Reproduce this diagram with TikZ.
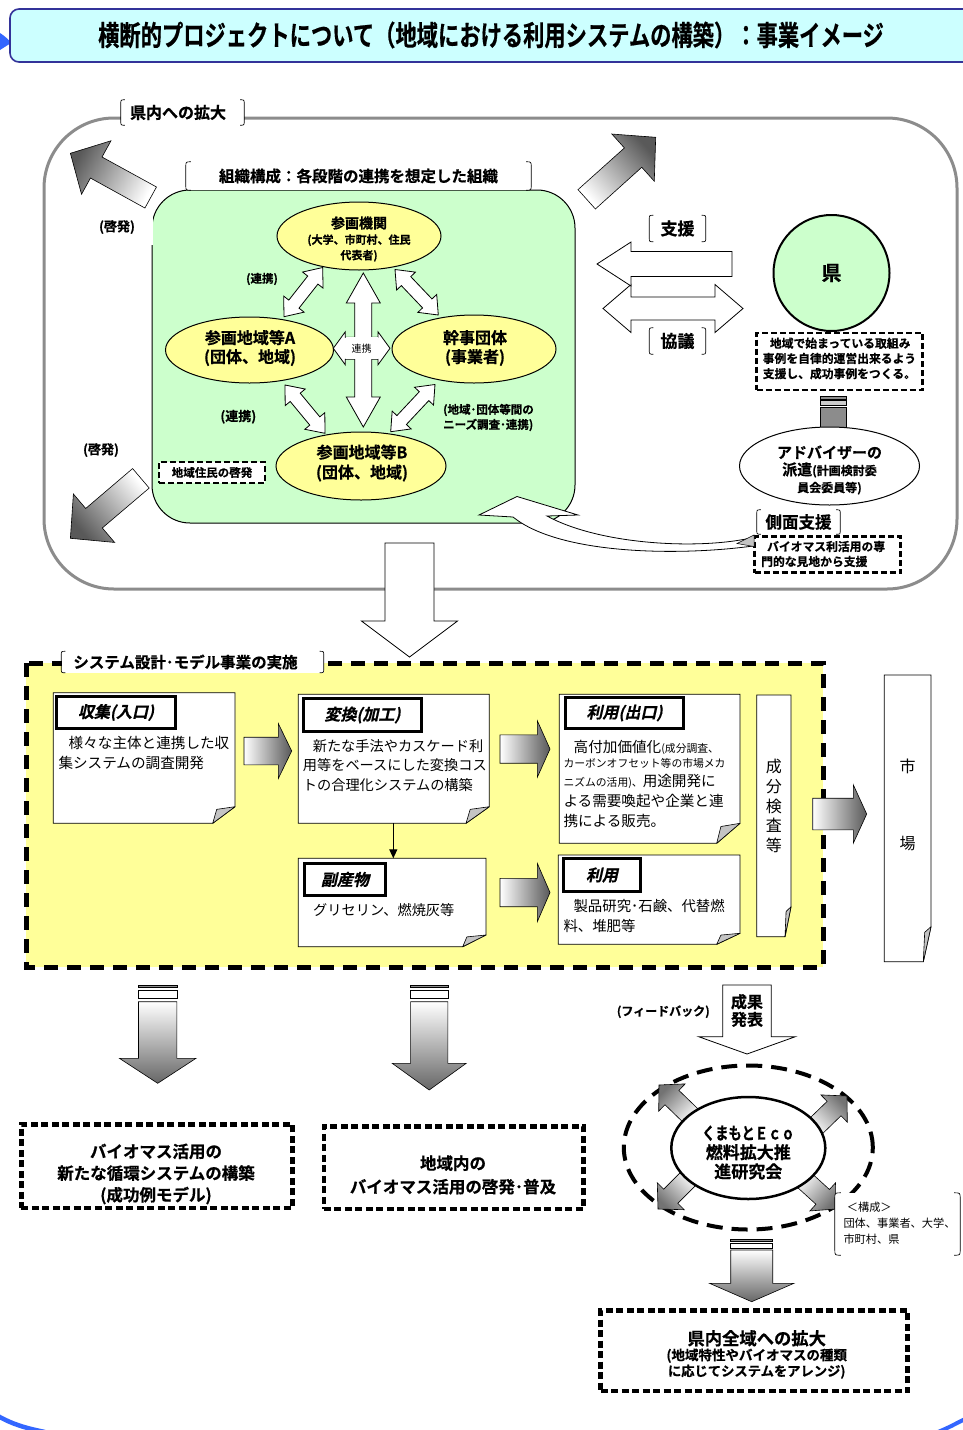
\documentclass[tikz,border=0pt]{standalone}
\usepackage{fontspec}
\usepackage{graphicx}
\setmainfont{Noto Sans CJK JP}
\newfontfamily\jb{Noto Sans CJK JP Bold}[FakeBold=0.6]
\newfontfamily\jbsl{Noto Sans CJK JP Bold}[FakeSlant=0.22, FakeBold=0.6]
\usetikzlibrary{calc,shapes.geometric,arrows.meta}

\definecolor{paleGreen}{HTML}{CCFFCC}
\definecolor{paleYellow}{HTML}{FFFF99}
\definecolor{paleCyan}{HTML}{CCFFFF}
\definecolor{titleNavy}{HTML}{333399}
\definecolor{frameGray}{HTML}{8C8C8C}
\definecolor{foldGray}{HTML}{C4C4C4}
\definecolor{decoBlue}{HTML}{3366FF}

\newcommand\fsz[2]{\fontsize{#1}{#2}\selectfont}

% block arrow: style, tail, tip, shaft half-width, head half-width, head length
\newcommand\blockarrow[6]{%
  \coordinate (ba-base) at ($#3!#6!#2$);
  \path[#1] ($#2!#4!90:#3$) -- ($(ba-base)!#4!-90:#2$) -- ($(ba-base)!#5!-90:#2$)
    -- #3 -- ($(ba-base)!#5!90:#2$) -- ($(ba-base)!#4!90:#2$)
    -- ($#2!#4!-90:#3$) -- cycle;}

% two-headed block arrow: style, end A, end B, shaft half-width, head half-width, head length
\newcommand\twinarrow[6]{%
  \coordinate (ta-a) at ($#2!#6!#3$);
  \coordinate (ta-b) at ($#3!#6!#2$);
  \path[#1] #2 -- ($(ta-a)!#5!90:#3$) -- ($(ta-a)!#4!90:#3$)
    -- ($(ta-b)!#4!-90:#2$) -- ($(ta-b)!#5!-90:#2$) -- #3
    -- ($(ta-b)!#5!90:#2$) -- ($(ta-b)!#4!90:#2$)
    -- ($(ta-a)!#4!-90:#3$) -- ($(ta-a)!#5!-90:#3$) -- cycle;}

% sheet with a folded lower-right corner: name, x1, y1, x2, y2, fold width, fold height
\newcommand\sheet[7]{%
  \path[draw=black, fill=white, line width=0.8pt]
    (#2,#3) -- (#4,#3) -- (#4,#5-#7) -- (#4-#6,#5) -- (#2,#5) -- cycle;
  \path[draw=black, fill=foldGray, line width=0.6pt, line join=round]
    (#4,#5-#7) -- (#4-#6,#5) -- (#4-0.82*#6,#5-0.84*#7) -- cycle;
  \coordinate (#1) at ({(#2+#4)/2},{(#3+#5)/2});}

% thin curled brackets on both sides of a label node: node name, curl size
\newcommand\bracketed[2]{%
  \draw[line width=0.7pt]
    ([xshift=#2]#1.north west) .. controls (#1.north west) .. ([yshift=-#2]#1.north west)
    -- ([yshift=#2]#1.south west) .. controls (#1.south west) .. ([xshift=#2]#1.south west);
  \draw[line width=0.7pt]
    ([xshift=-#2]#1.north east) .. controls (#1.north east) .. ([yshift=-#2]#1.north east)
    -- ([yshift=#2]#1.south east) .. controls (#1.south east) .. ([xshift=-#2]#1.south east);}

% one line of text placed on its baseline
\newcommand\tline[4]{\node[anchor=base west] (#1) at (#2,#3) {#4};}

\begin{document}
\begin{tikzpicture}[x=1pt, y=-1pt,
  every node/.style={inner sep=0pt},
  lbl/.style={fill=white},
  yel/.style={ellipse, draw=black, fill=paleYellow, line width=1pt},
  whitearrow/.style={draw=black, fill=white, line width=0.8pt, line join=miter},
  grayarrow/.style={draw=black, line width=0.6pt, line join=miter},
  dbox/.style={draw=black, fill=white, line width=2.4pt, dash pattern=on 6pt off 3pt},
  dotbox/.style={draw=black, line width=4.5pt, dash pattern=on 7pt off 3.5pt},
  tabbox/.style={draw=black, line width=3.5pt, fill=white, font=\jbsl\fsz{16}{18}}]

\useasboundingbox (0,0) rectangle (963,1430);
\fill[white] (0,0) rectangle (963,1430);

% ---------- decoration and title ----------
\fill[decoBlue] (0,33) .. controls (6,37) and (9,40) .. (11,43) .. controls (6,46) .. (0,50) -- cycle;
\draw[decoBlue, line width=4.5pt] (-2,1416) .. controls (12,1424) and (25,1428) .. (45,1432);
\draw[decoBlue, line width=4pt] (965,1419) .. controls (955,1424) and (948,1428) .. (938,1432);
\path[draw=titleNavy, fill=paleCyan, line width=1.6pt, rounded corners=9pt] (10,9) rectangle (1000,62);
\node (title) at (491,35) {\scalebox{0.76}[1]{\jb\fsz{28}{30}横断的プロジェクトについて（地域における利用システムの構築）：事業イメージ}};

% ---------- prefecture-wide frame ----------
\draw[frameGray, line width=3pt, rounded corners=70pt] (44,118) rectangle (957,589);
\node[lbl, minimum width=123pt, minimum height=25pt] (expand) at (182.5,112.5) {\jb\fsz{16}{18}県内への拡大\hspace*{9pt}};
\bracketed{expand}{4pt}

% outward arrows
\coordinate (nw-tail) at (150.7,197.5); \coordinate (nw-tip) at (70.4,153.3);
\blockarrow{grayarrow, top color=black!65, bottom color=white, shading angle=61.2}{(nw-tail)}{(nw-tip)}{12pt}{30.5pt}{29.5pt}
\coordinate (ne-tail) at (586.7,199.3); \coordinate (ne-tip) at (655.7,137.3);
\blockarrow{grayarrow, top color=black!65, bottom color=white, shading angle=-48.1}{(ne-tail)}{(ne-tip)}{13pt}{31.7pt}{30.4pt}
\coordinate (sw-tail) at (140.9,478.3); \coordinate (sw-tip) at (70.4,538.3);
\blockarrow{grayarrow, top color=black!65, bottom color=white, shading angle=130.4}{(sw-tail)}{(sw-tip)}{12.8pt}{31.8pt}{31pt}

% ---------- organisation area ----------
\path[draw=black, fill=paleGreen, line width=1pt, rounded corners=38pt] (152,190) rectangle (575,523);
\node[lbl, minimum width=72pt, minimum height=36pt] (kei-top) at (117,227) {\jb\fsz{13}{15}(啓発)};
\node (kei-low) at (101,450) {\jb\fsz{13}{15}(啓発)};
\node[lbl, minimum width=345pt, minimum height=28pt] (org) at (358.5,176) {\jb\fsz{15.5}{17}組織構成：各段階の連携を想定した組織};
\bracketed{org}{5pt}

\node[yel, minimum width=164pt, minimum height=68pt] (kikan) at (359,236) {};
\node[align=center, font=\jb\fsz{11}{15.5}] (kikan-txt) at (359,239) {{\fsz{14}{16}参画機関}\\(大学、市町村、住民\\代表者)};
\node[yel, minimum width=168pt, minimum height=66pt] (regA) at (249.5,350) {};
\node[align=center, font=\jb\fsz{16}{19}] (regA-txt) at (250,348) {参画地域等A\\(団体、地域)};
\node[yel, minimum width=164pt, minimum height=68pt] (kanji) at (474,349) {};
\node[align=center, font=\jb\fsz{16}{19}] (kanji-txt) at (475,348) {幹事団体\\(事業者)};
\node[yel, minimum width=170pt, minimum height=68pt] (regB) at (361,466) {};
\node[align=center, font=\jb\fsz{16}{20}] (regB-txt) at (362,463) {参画地域等B\\(団体、地域)};

\coordinate (ka1) at (322.7,267.5); \coordinate (ka2) at (284,316.7);
\twinarrow{whitearrow}{(ka1)}{(ka2)}{6.5pt}{13pt}{16pt}
\coordinate (kk1) at (395,269.5); \coordinate (kk2) at (438.3,315);
\twinarrow{whitearrow}{(kk1)}{(kk2)}{6.5pt}{13pt}{16pt}
\coordinate (ab1) at (285,385); \coordinate (ab2) at (325,433.3);
\twinarrow{whitearrow}{(ab1)}{(ab2)}{6.5pt}{13pt}{16pt}
\coordinate (kb1) at (435,384.5); \coordinate (kb2) at (390.7,431.7);
\twinarrow{whitearrow}{(kb1)}{(kb2)}{6.5pt}{13pt}{16pt}
\coordinate (ah) at (333.3,348.3); \coordinate (kh) at (390,348.3);
\twinarrow{whitearrow}{(ah)}{(kh)}{11pt}{16.5pt}{12pt}
\coordinate (kv) at (363.3,273); \coordinate (bv) at (363.3,427);
\twinarrow{whitearrow}{(kv)}{(bv)}{8.5pt}{17pt}{30pt}
\node[lbl, minimum width=32pt, minimum height=22pt] (renkei) at (361.5,348.3) {\fsz{10}{12}連携};

\node (renkei-ul) at (262,279) {\jb\fsz{11.5}{13}(連携)};
\node (renkei-ll) at (238.3,416.7) {\jb\fsz{13}{15}(連携)};
\node[anchor=west, align=left, font=\jb\fsz{11.5}{15}] (needs) at (443,417.5) {(地域･団体等間の\\ニーズ調査･連携)};
\node[dbox, minimum width=106pt, minimum height=21pt] (resid) at (212,472.5) {\jb\fsz{11.5}{13}地域住民の啓発};

% ---------- prefecture side ----------
\node[lbl, minimum width=56pt, minimum height=26pt] (shien) at (677.5,228.5) {\jb\fsz{17}{19}支援};
\bracketed{shien}{4pt}
\coordinate (kyo-l) at (603,308.5); \coordinate (kyo-r) at (743,308.5);
\twinarrow{whitearrow}{(kyo-l)}{(kyo-r)}{11.5pt}{24pt}{28pt}
\coordinate (shien-tail) at (732,264); \coordinate (shien-tip) at (597,264);
\blockarrow{whitearrow}{(shien-tail)}{(shien-tip)}{12.5pt}{22pt}{34pt}
\node[lbl, minimum width=56pt, minimum height=26pt] (kyogi) at (677.5,341) {\jb\fsz{17}{19}協議};
\bracketed{kyogi}{4pt}

\node[circle, draw=black, line width=2pt, fill=paleGreen, minimum size=116pt] (pref) at (831.5,273) {\jb\fsz{20}{22}県};
\node[dbox, minimum width=166pt, minimum height=57pt] (prefnote) at (839.5,361.2) {};
\node[align=left, font=\jb\fsz{11.8}{15.2}] (prefnote-txt) at (839.5,358.5) {\hspace*{0.6em}地域で始まっている取組み\\事例を自律的運営出来るよう\\支援し、成功事例をつくる。};

\path[draw=black, line width=0.6pt, fill=black!45] (820,396.5) rectangle (846.5,398.8);
\path[draw=black, line width=0.6pt, fill=black!20] (820,400.5) rectangle (846.5,405.5);
\path[draw=black, line width=0.6pt, fill=black!45] (820,407.5) rectangle (846.5,427);

\node[ellipse, draw=black, line width=1pt, fill=white, minimum width=180pt, minimum height=78pt] (adv) at (829.5,466) {};
\node[align=center, font=\jb\fsz{12}{17}] (adv-txt) at (829.5,470) {{\fsz{15}{20}アドバイザーの}\\{\fsz{15}{20}派遣}(計画検討委\\員会委員等)};

\node[lbl, minimum width=83pt, minimum height=24pt] (side) at (798.5,522) {\jb\fsz{16.5}{18}側面支援};
\bracketed{side}{4pt}
\node[dbox, minimum width=146pt, minimum height=36pt] (expert) at (827.5,554.5) {};
\node[anchor=west, align=left, font=\jb\fsz{11.8}{15}] (expert-txt) at (761,554) {\hspace*{0.5em}バイオマス利活用の専\\門的な見地から支援};

% curved support arrow back into the organisation
\path[whitearrow] (753,537.5) .. controls (700,550) and (600,545) .. (547,516)
  -- (578,515) -- (517,496.5) -- (479,515) -- (513,517)
  .. controls (560,555) and (680,556) .. (753,546) -- cycle;
\path[draw=black, line width=0.5pt, fill=foldGray] (754,535) -- (754,546.5) -- (737,543.5) -- cycle;

% down into the model project
\coordinate (upper-out) at (409.5,543); \coordinate (lower-in) at (409.5,657);
\blockarrow{whitearrow}{(upper-out)}{(lower-in)}{24.5pt}{48pt}{36pt}

% ---------- system design / model project ----------
\fill[paleYellow] (26,663) rectangle (823,967);
\draw[line width=5pt, dash pattern=on 14pt off 9pt] (26,663) rectangle (823,967);
\node[lbl, minimum width=262pt, minimum height=21pt] (sysdesign) at (192.5,662) {\jb\fsz{15.5}{17}システム設計･モデル事業の実施\hspace*{14pt}};
\bracketed{sysdesign}{4pt}

\sheet{shushu}{53.3}{692.7}{235}{823.3}{22.3}{16.6}
\sheet{henkan}{298.3}{694.3}{489.3}{823.3}{23.3}{16.6}
\sheet{fukusan}{298.3}{858.3}{486}{946.7}{23.3}{11.7}
\sheet{deguchi}{559.3}{694.3}{740}{843.3}{23.3}{20}
\sheet{riyou}{558.3}{855}{740}{944.3}{23.3}{11}
\sheet{seibun}{756.7}{695}{791}{936.7}{6}{30}
\sheet{market}{884.3}{675}{931}{961.7}{7.7}{35}

\node[tabbox, minimum width=119pt, minimum height=32pt] (tab-shu) at (116,712.5) {収集(入口)};
\node[tabbox, minimum width=118pt, minimum height=33pt] (tab-hen) at (362.5,715) {変換(加工)};
\node[tabbox, minimum width=81pt, minimum height=32pt] (tab-fuk) at (345,879.5) {副産物};
\node[tabbox, minimum width=118pt, minimum height=31pt] (tab-de) at (624.5,713) {利用(出口)};
\node[tabbox, minimum width=77pt, minimum height=33pt] (tab-ri) at (602,875) {利用};

\tline{shu-l1}{58.3}{748.8}{\fsz{14.6}{18}\hspace*{0.7em}様々な主体と連携した収}
\tline{shu-l2}{58.3}{768.8}{\fsz{14.6}{18}集システムの調査開発}
\tline{hen-l1}{302.7}{751.4}{\fsz{14.2}{18}\hspace*{0.7em}新たな手法やカスケード利}
\tline{hen-l2}{302.7}{770.4}{\fsz{14.2}{18}用等をベースにした変換コス}
\tline{hen-l3}{302.7}{790.4}{\fsz{14.2}{18}トの合理化システムの構築}
\tline{fuk-l1}{313}{915.4}{\fsz{14.2}{18}グリセリン、燃焼灰等}
\tline{de-l1}{563.3}{752}{\fsz{14.6}{18}\hspace*{0.7em}高付加価値化\fsz{10.8}{13}(成分調査、}
\tline{de-l2}{563.3}{767.4}{\fsz{10.8}{13}カーボンオフセット等の市場メカ}
\tline{de-l3}{563.3}{786.5}{\fsz{10.8}{13}ニズムの活用)、\fsz{14.6}{18}用途開発に}
\tline{de-l4}{563.3}{806.2}{\fsz{14.6}{18}よる需要喚起や企業と連}
\tline{de-l5}{563.3}{826.2}{\fsz{14.6}{18}携による販売。}
\tline{ri-l1}{563.3}{911.5}{\fsz{14.4}{18}\hspace*{0.7em}製品研究･石鹸、代替燃}
\tline{ri-l2}{563.3}{931.5}{\fsz{14.4}{18}料、堆肥等}
\node[align=center, font=\fsz{16}{19.6}] (seibun-txt) at (773.8,806) {成\\分\\検\\査\\等};
\node (ichi) at (907.5,766.7) {\fsz{16}{18}市};
\node (ba) at (907.5,843.3) {\fsz{16}{18}場};

\coordinate (shu-out) at (244,751); \coordinate (hen-in) at (291.7,751);
\blockarrow{grayarrow, left color=white, right color=black!65}{(shu-out)}{(hen-in)}{13.8pt}{27.5pt}{13.4pt}
\coordinate (hen-out) at (500,749); \coordinate (de-in) at (550,749);
\blockarrow{grayarrow, left color=white, right color=black!65}{(hen-out)}{(de-in)}{14.2pt}{28.3pt}{12.7pt}
\coordinate (fuk-out) at (500,892.5); \coordinate (ri-in) at (550,892.5);
\blockarrow{grayarrow, left color=white, right color=black!65}{(fuk-out)}{(ri-in)}{14.2pt}{29.2pt}{12.7pt}
\coordinate (sys-out) at (812.7,814); \coordinate (market-in) at (866.7,814);
\blockarrow{grayarrow, left color=white, right color=black!65}{(sys-out)}{(market-in)}{15.8pt}{29.2pt}{13.4pt}
\coordinate (hen-down) at (393.3,823.3); \coordinate (fuk-top) at (393.3,858.3);
\draw[line width=1.2pt, -{Triangle[width=8pt,length=9pt]}] (hen-down) -- (fuk-top);

% ---------- outcomes ----------
\path[draw=black, line width=0.6pt, fill=black!45] (138.5,985) rectangle (176.8,987.5);
\path[draw=black, line width=0.6pt, fill=white] (138.5,990.7) rectangle (176.8,998.3);
\coordinate (new-src) at (157.7,1001.7); \coordinate (new-dst) at (157.7,1083.3);
\blockarrow{grayarrow, top color=white, bottom color=black!60}{(new-src)}{(new-dst)}{19.2pt}{38.3pt}{25pt}
\path[draw=black, line width=0.6pt, fill=black!45] (410.6,985) rectangle (447.8,987.5);
\path[draw=black, line width=0.6pt, fill=white] (410.6,990.7) rectangle (447.8,998.3);
\coordinate (spr-src) at (429.2,1001.7); \coordinate (spr-dst) at (429.2,1090);
\blockarrow{grayarrow, top color=white, bottom color=black!60}{(spr-src)}{(spr-dst)}{18.6pt}{37pt}{26.7pt}

\node[dotbox, minimum width=271pt, minimum height=83.5pt] (newsys) at (156.9,1166) {};
\node[align=center, font=\jb\fsz{16.5}{21.7}] (newsys-txt) at (156,1174) {バイオマス活用の\\新たな循環システムの構築\\(成功例モデル)};
\node[dotbox, minimum width=259.5pt, minimum height=82.5pt] (spread) at (453.5,1167.5) {};
\node[align=center, font=\jb\fsz{16.5}{23.5}] (spread-txt) at (453,1175) {地域内の\\バイオマス活用の啓発･普及};

% feedback and study group
\node (fb) at (663.3,1011.7) {\jb\fsz{12}{14}(フィードバック)};
\coordinate (res-src) at (747,985); \coordinate (res-dst) at (747,1054);
\blockarrow{whitearrow}{(res-src)}{(res-dst)}{24.2pt}{48.3pt}{17.3pt}
\node[align=center, font=\jb\fsz{16}{17.6}] (result) at (747,1010.5) {成果\\発表};

\node[ellipse, draw=black, line width=4pt, dash pattern=on 16pt off 9pt, minimum width=249pt, minimum height=164pt] (ring) at (748.3,1147.5) {};
\coordinate (eco-nw-s) at (692,1117); \coordinate (eco-nw-t) at (659,1085);
\blockarrow{grayarrow, top color=black!55, bottom color=white, shading angle=45}{(eco-nw-s)}{(eco-nw-t)}{10pt}{19pt}{18pt}
\coordinate (eco-ne-s) at (814,1128); \coordinate (eco-ne-t) at (847,1096);
\blockarrow{grayarrow, top color=black!55, bottom color=white, shading angle=-45}{(eco-ne-s)}{(eco-ne-t)}{10pt}{19pt}{18pt}
\coordinate (eco-sw-s) at (690,1177); \coordinate (eco-sw-t) at (658,1209);
\blockarrow{grayarrow, top color=black!55, bottom color=white, shading angle=-225}{(eco-sw-s)}{(eco-sw-t)}{10pt}{19pt}{18pt}
\coordinate (eco-se-s) at (802,1178); \coordinate (eco-se-t) at (836,1209);
\blockarrow{grayarrow, top color=black!55, bottom color=white, shading angle=-132}{(eco-se-s)}{(eco-se-t)}{10pt}{19pt}{18pt}
\node[ellipse, draw=black, line width=2.5pt, fill=white, minimum width=154pt, minimum height=102pt] (eco) at (748.3,1148) {};
\node[align=center, font=\jb\fsz{17}{19.2}] (eco-txt) at (748.3,1152.5) {\scalebox{0.78}[1]{くまもとＥｃｏ}\\燃料拡大推\\進研究会};

\node[lbl, minimum width=125pt, minimum height=62pt] (members) at (897.5,1224) {};
\bracketed{members}{6pt}
\node[anchor=west, align=left, font=\fsz{11.2}{16}] (members-txt) at (843.3,1223.3) {\hspace*{0.3em}＜構成＞\\団体、事業者、大学、\\市町村、県};

\path[draw=black, line width=0.6pt, fill=black!45] (730.7,1239.5) rectangle (772.7,1241.7);
\path[draw=black, line width=0.6pt, fill=white] (730.7,1243.3) rectangle (772.7,1248.3);
\coordinate (eco-out) at (751.7,1250); \coordinate (whole-in) at (751.7,1301.7);
\blockarrow{grayarrow, top color=white, bottom color=black!60}{(eco-out)}{(whole-in)}{21pt}{42.2pt}{18.4pt}

\node[dotbox, minimum width=307pt, minimum height=80.5pt] (whole) at (754.2,1350.8) {};
\node (whole-l1) at (756.7,1338.3) {\jb\fsz{17.3}{19}県内全域への拡大};
\node (whole-l2) at (756.7,1355.7) {\jb\fsz{13.5}{15}(地域特性やバイオマスの種類};
\node (whole-l3) at (756.7,1371.7) {\jb\fsz{13.3}{15}に応じてシステムをアレンジ)};

\end{tikzpicture}
\end{document}
